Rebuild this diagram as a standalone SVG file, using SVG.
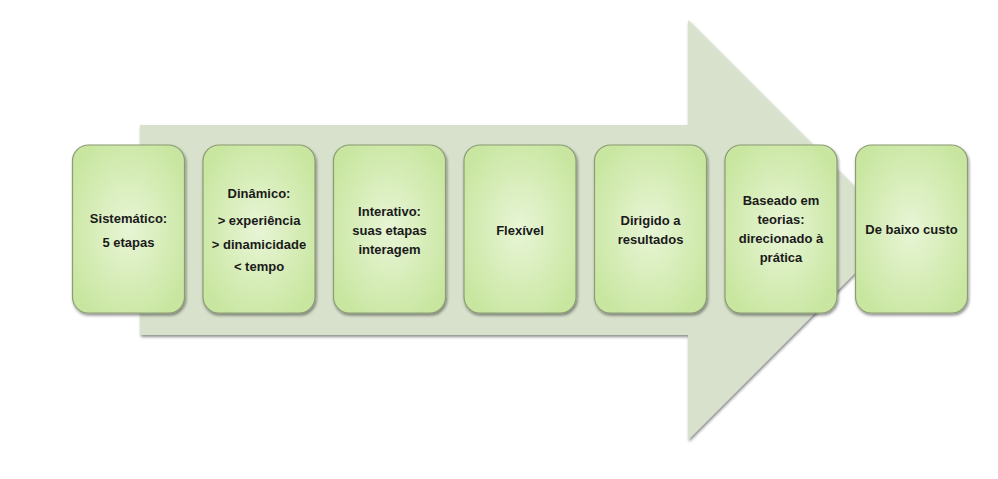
<svg xmlns="http://www.w3.org/2000/svg" width="998" height="479" viewBox="0 0 998 479">
<defs>
<radialGradient id="g" cx="50%" cy="50%" r="60%">
<stop offset="0" stop-color="#e8f5d6"/>
<stop offset="1" stop-color="#c8e69f"/>
</radialGradient>
<filter id="sh" x="-10%" y="-10%" width="130%" height="130%">
<feGaussianBlur in="SourceAlpha" stdDeviation="1.5"/>
<feOffset dx="1" dy="2" result="b"/>
<feComponentTransfer><feFuncA type="linear" slope="0.45"/></feComponentTransfer>
<feMerge><feMergeNode/><feMergeNode in="SourceGraphic"/></feMerge>
</filter>
</defs>
<style>
.box{fill:url(#g);stroke:#8c9c74;stroke-width:1.2;filter:url(#sh)}
text{font-family:"Liberation Sans",Arial,sans-serif;font-weight:bold;font-size:13px;fill:#1a1a1a;text-anchor:middle}
</style>
<g id="arrow">
<path d="M140,125 H688 V20 L898,230 L688,440 V335 H140 Z" fill="#d7e1cc" filter="url(#sh)"/>
</g>
<g id="connectors"></g>
<g id="n1"><rect class="box" x="72.5" y="145" width="112" height="168" rx="16"/>
<text x="128.5" y="223">Sistemático:</text><text x="128.5" y="247">5 etapas</text></g>
<g id="n2"><rect class="box" x="203" y="145" width="112" height="168" rx="16"/>
<text x="259" y="198">Dinâmico:</text><text x="259" y="225">&gt; experiência</text><text x="259" y="249">&gt; dinamicidade</text><text x="259" y="271">&lt; tempo</text></g>
<g id="n3"><rect class="box" x="333.5" y="145" width="112" height="168" rx="16"/>
<text x="389.5" y="216">Interativo:</text><text x="389.5" y="235">suas etapas</text><text x="389.5" y="254">interagem</text></g>
<g id="n4"><rect class="box" x="464" y="145" width="112" height="168" rx="16"/>
<text x="520" y="235">Flexível</text></g>
<g id="n5"><rect class="box" x="594.5" y="145" width="112" height="168" rx="16"/>
<text x="650.5" y="225">Dirigido a</text><text x="650.5" y="244">resultados</text></g>
<g id="n6"><rect class="box" x="725" y="145" width="112" height="168" rx="16"/>
<text x="781" y="205">Baseado em</text><text x="781" y="224">teorias:</text><text x="781" y="243">direcionado à</text><text x="781" y="262">prática</text></g>
<g id="n7"><rect class="box" x="855.5" y="145" width="112" height="168" rx="16"/>
<text x="911.5" y="234">De baixo custo</text></g>
</svg>
